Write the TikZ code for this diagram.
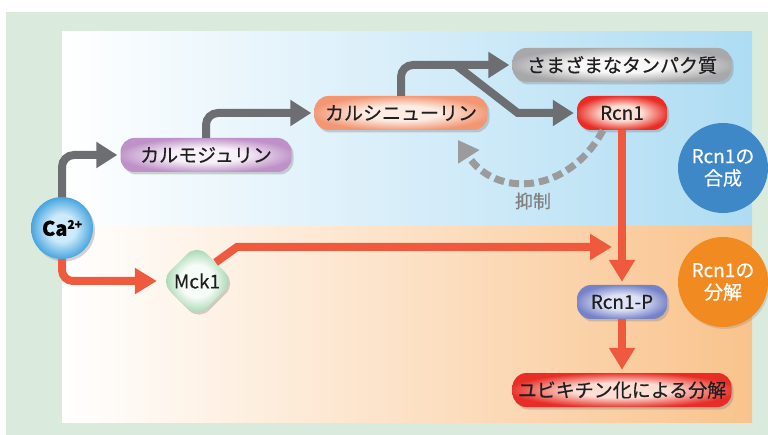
\documentclass[tikz,border=0pt]{standalone}
\usepackage{fontspec}
\setmainfont{Noto Sans CJK JP}[FakeBold=0.4]
\usetikzlibrary{arrows.meta,shapes.geometric,shadows,calc}
\definecolor{bggreen}{HTML}{DAEBDE}
\definecolor{panelblue}{HTML}{AEDCF3}
\definecolor{panelorange}{HTML}{F9C38C}
\definecolor{arrowgray}{HTML}{6D6E71}
\definecolor{dashgray}{HTML}{9B9B9D}
\definecolor{redline}{HTML}{EF5A3E}
\definecolor{synthblue}{HTML}{3F88C8}
\definecolor{degorange}{HTML}{F28A22}
\colorlet{glowin}{white}
\colorlet{glowout}{black}
\pgfdeclareradialshading[glowin,glowout]{glow}{\pgfpoint{0bp}{0bp}}{color(0bp)=(glowin); color(11bp)=(glowin); color(26bp)=(glowout); color(50bp)=(glowout)}
\begin{document}
\begin{tikzpicture}[x=1pt,y=-1pt,
  jp/.style={font=\fontsize{19}{22}\selectfont, text=black!88},
  glow/.style 2 args={/utils/exec={\colorlet{glowin}{#1}\colorlet{glowout}{#2}}, shade, shading=glow},
  shadowed/.style={drop shadow={shadow xshift=2pt, shadow yshift=-2.5pt, opacity=0.35}},
  pill/.style={jp, rounded corners=14pt, minimum height=34pt, inner sep=0pt, shadowed},
  garrow/.style={draw=arrowgray, line width=8pt, -{Triangle[width=25pt,length=21pt]}, shorten >=3pt},
  rarrow/.style={draw=redline, line width=8pt, -{Triangle[width=25pt,length=22pt]}, shorten >=3pt},
  infocircle/.style={circle, minimum size=90pt, inner sep=0pt, text=white, align=center,
    font=\fontsize{19}{22}\selectfont}
]
\useasboundingbox (0,0) rectangle (768,435);
\fill[bggreen] (6,12) rectangle (768,435);
\shade[left color=white, right color=panelblue] (62,32) rectangle (752,227);
\shade[left color=white, right color=panelorange] (62,227) rectangle (752,422);

% info circles
\node[infocircle, fill=synthblue] (synth) at (723,168) {Rcn1の\\合成};
\node[infocircle, fill=degorange, drop shadow={shadow xshift=1.5pt, shadow yshift=-2pt, opacity=0.25}] (deg) at (723,282) {Rcn1の\\分解};

% nodes
\node[circle, minimum size=62pt, inner sep=0pt, glow={rgb,255:red,205;green,234;blue,250}{rgb,255:red,62;green,160;blue,222}, shadowed] (ca) at (62,228)
  {\fontsize{20}{22}\selectfont\bfseries Ca\raisebox{7pt}{\fontsize{12}{12}\selectfont 2+}};
\node[pill, minimum width=171pt, glow={rgb,255:red,248;green,240;blue,249}{rgb,255:red,190;green,145;blue,200}] (cam) at (206,155) {カルモジュリン};
\node[pill, minimum width=173pt, glow={rgb,255:red,253;green,236;blue,228}{rgb,255:red,242;green,150;blue,115}] (cn) at (401,113) {カルシニューリン};
\node[pill, minimum width=219pt, glow={rgb,255:red,248;green,248;blue,248}{rgb,255:red,168;green,168;blue,170}] (prot) at (622,65) {さまざまなタンパク質};
\node[pill, minimum width=90pt, glow={rgb,255:red,252;green,222;blue,212}{rgb,255:red,232;green,45;blue,38}] (rcn) at (622,113) {Rcn1};
\node[pill, minimum width=90pt, glow={rgb,255:red,222;green,226;blue,246}{rgb,255:red,118;green,130;blue,200}] (rcnp) at (622,302) {Rcn1-P};
\node[pill, minimum width=219pt, glow={rgb,255:red,252;green,222;blue,212}{rgb,255:red,232;green,45;blue,38}] (ubq) at (622,390) {ユビキチン化による分解};
\node[diamond, jp, minimum width=74pt, minimum height=74pt, inner sep=0pt, rounded corners=14pt,
  glow={rgb,255:red,246;green,252;blue,247}{rgb,255:red,135;green,200;blue,150}, shadowed] (mck) at (197,281) {Mck1};

\node[font=\fontsize{18}{20}\selectfont, text=black!50] (inh) at (533,201) {抑制};

% gray connectors
\draw[garrow, rounded corners=12pt] (ca.north) |- (cam.west);
\draw[garrow, rounded corners=12pt] (cam.north) |- (cn.west);
\draw[garrow, rounded corners=12pt] (cn.north) |- (prot.west);
\coordinate (br) at (457,66);
\coordinate (brk) at ($(rcn.west)+(-59,0)$);
\draw[garrow] (br) -- (brk) -- (rcn.west);

% dashed inhibition
\coordinate (inhS) at ($(rcn.south)+(-19,0)$);
\coordinate (inhE) at (458,140);
\draw[draw=dashgray, line width=7pt, dash pattern=on 10pt off 5pt, -{Triangle[width=24pt,length=20pt]}]
  (inhS) .. controls (568,195) and (495,198) .. (inhE);

% red connectors
\draw[rarrow, rounded corners=11pt] (ca.south) |- (mck.west);
\coordinate (mk1) at (237,247);
\coordinate (hit) at (622,247);
\draw[rarrow, shorten >=10pt] (mck.north east) -- (mk1) -- (hit);
\draw[rarrow] (rcn.south) -- (rcnp.north);
\draw[rarrow] (rcnp.south) -- (ubq.north);
\end{tikzpicture}
\end{document}
